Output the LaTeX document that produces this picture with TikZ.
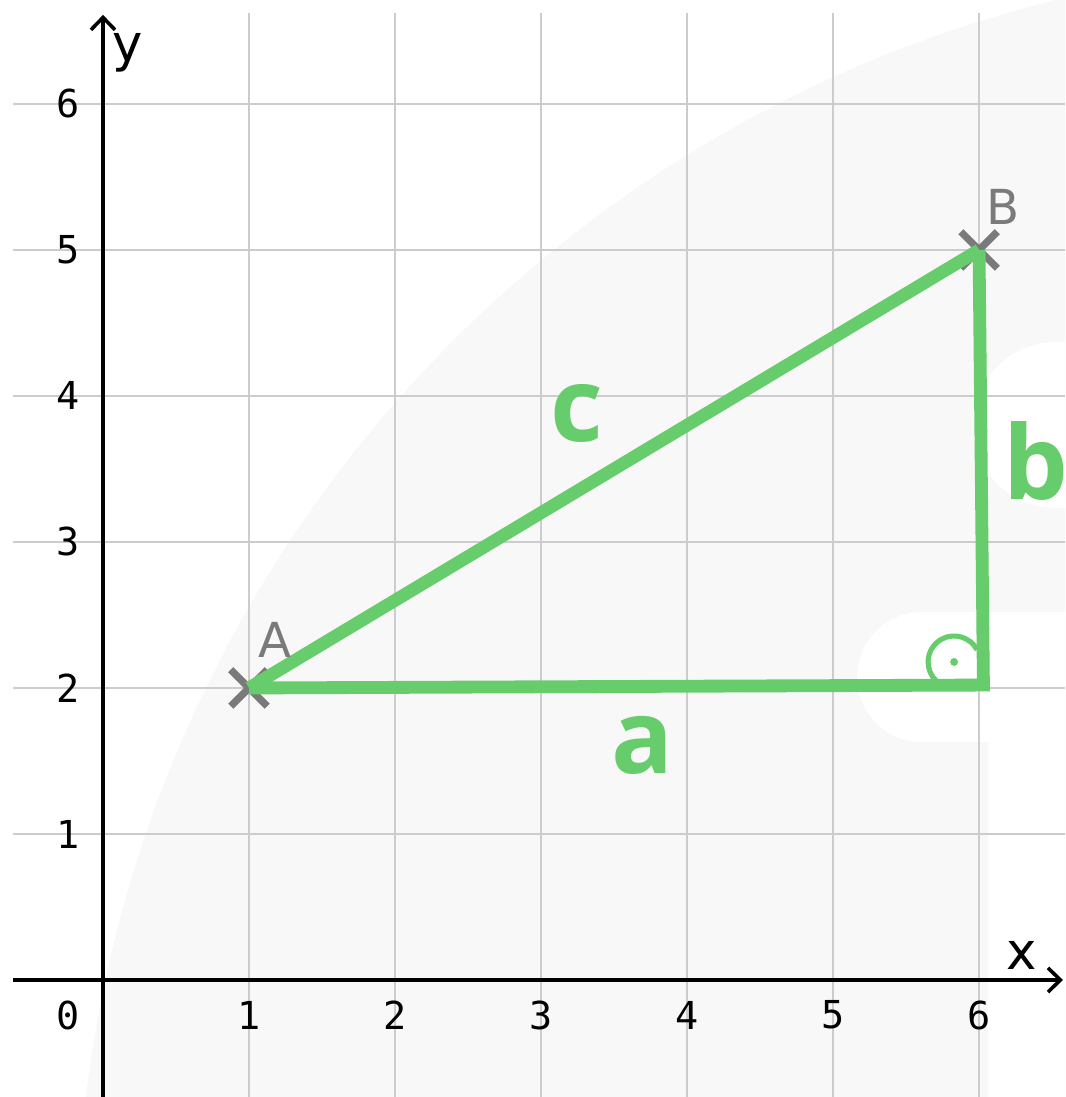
\documentclass[tikz,border=0pt]{standalone}
\usepackage{fontspec}
\setmainfont{DejaVu Sans}
\newfontfamily\tickfont{DejaVu Sans Mono}
\newfontfamily\sidefont{Open Sans}
\usetikzlibrary{arrows.meta}
\definecolor{sidegreen}{RGB}{102,204,108}
\definecolor{crossgray}{RGB}{122,122,122}
\definecolor{gridgray}{RGB}{204,204,204}
\definecolor{wmgray}{RGB}{248,248,248}

\begin{document}
\begin{tikzpicture}[
    gridline/.style={draw=gridgray, line width=0.5pt},
    axis/.style={-{Straight Barb[length=0.85mm, width=1.65mm]}, line width=0.7pt},
    side/.style={draw=sidegreen, line width=2.5pt},
    ptcross/.style={draw=crossgray, line width=1.4pt},
    ticklbl/.style={font=\tickfont\fontsize{7.5}{9}\selectfont},
    axislbl/.style={font=\fontsize{10}{12}\selectfont},
    ptlbl/.style={text=crossgray, font=\fontsize{9.4}{11}\selectfont},
    sidelbl/.style={text=sidegreen, font=\sidefont\bfseries\fontsize{20}{24}\selectfont}
]
\useasboundingbox (-0.7055,-0.8014) rectangle (6.589,6.712);

\begin{scope}
\clip (-0.7055,-0.8014) rectangle (6.589,6.712);
\fill[wmgray] (8.637,-1.849) circle (8.815);
\fill[white] (6.527,3.233) arc[start angle=270, end angle=90, radius=0.568] -- (7,4.369) -- (7,3.233) -- cycle;
\fill[white] (5.610,1.630) arc[start angle=270, end angle=90, radius=0.445] -- (7,2.520) -- (7,1.630) -- cycle;
\fill[white] (6.062,-1) rectangle (7,2.075);
\end{scope}

\foreach \k in {1,...,6} {
    \draw[gridline] (-0.616,\k) -- (6.589,\k);
    \draw[gridline] (\k,6.623) -- (\k,-0.8014);
}

\draw[axis] (-0.616,0) -- (6.575,0);
\draw[axis] (0,-0.8014) -- (0,6.61);

\node[ticklbl] (x0) at (-0.24,-0.24) {0};
\foreach \k in {1,...,6} {
    \node[ticklbl] (x\k) at (\k,-0.24) {\k};
    \node[ticklbl] (y\k) at (-0.24,\k) {\k};
}
\node[axislbl] (xlbl) at (6.295,0.171) {x};
\node[axislbl] (ylbl) at (0.171,6.353) {y};

\coordinate (A) at (1,2);
\coordinate (B) at (6,5);
\coordinate (C) at (6.03,2.02);
\coordinate (R) at (5.829,2.178);

\draw[ptcross] (A) ++(-0.125,-0.125) -- ++(0.25,0.25) (A) ++(-0.125,0.125) -- ++(0.25,-0.25);
\draw[ptcross] (B) ++(-0.125,-0.125) -- ++(0.25,0.25) (B) ++(-0.125,0.125) -- ++(0.25,-0.25);

\draw[side] (A) -- (B);
\draw[side, line join=miter] (A) -- (C) -- (B);
\draw[side, line width=1pt] (R) ++(28:0.178) arc[start angle=28, end angle=227, radius=0.178];
\fill[sidegreen] (R) circle (0.027);

\node[ptlbl] (Albl) at (1.178,2.329) {A};
\node[ptlbl] (Blbl) at (6.164,5.295) {B};

\node[sidelbl] (clbl) at (3.247,3.877) {c};
\node[sidelbl] (albl) at (3.692,1.61) {a};
\node[sidelbl] (blbl) at (6.39,3.555) {b};

\end{tikzpicture}
\end{document}
